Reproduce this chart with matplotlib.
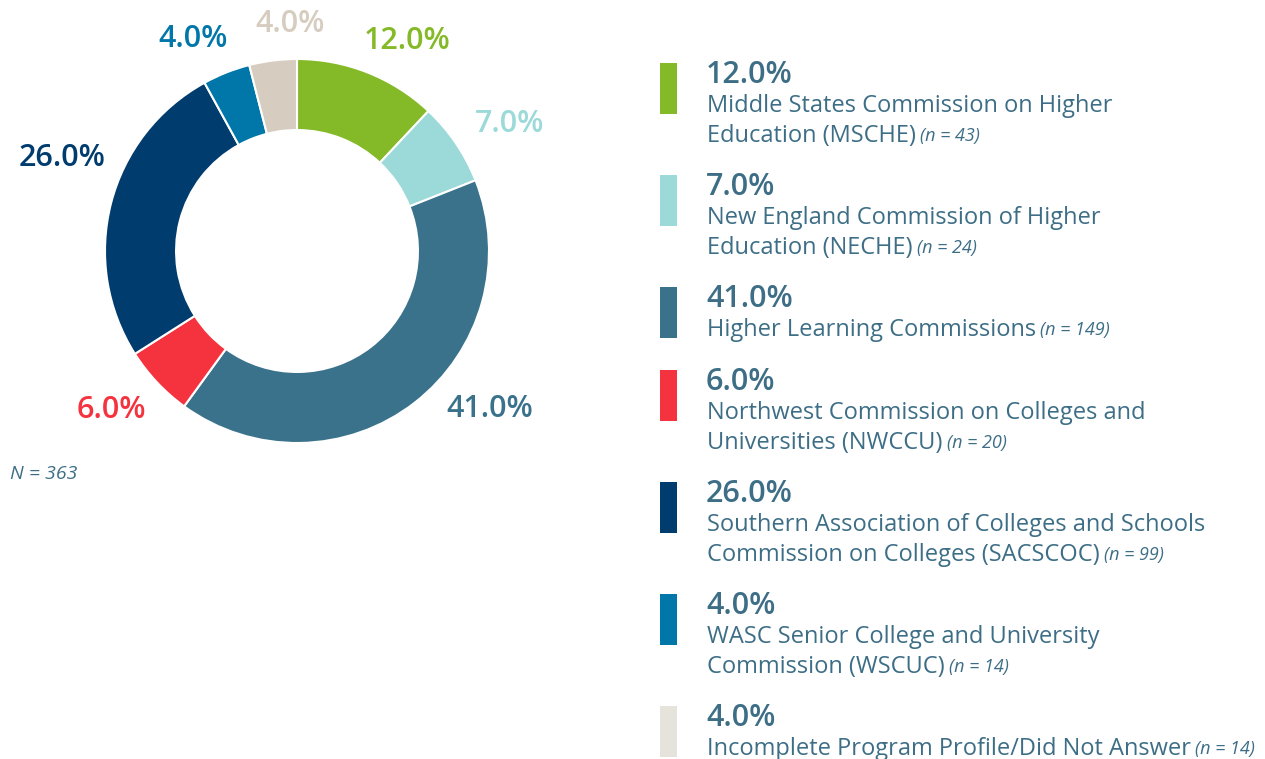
import matplotlib.pyplot as plt

plt.rcParams['font.family'] = ['Open Sans', 'DejaVu Sans']

# data
shares = [12.0, 7.0, 41.0, 6.0, 26.0, 4.0, 4.0]
counts = [43, 24, 149, 20, 99, 14, 14]
names = [
    "Middle States Commission on Higher\nEducation (MSCHE)",
    "New England Commission of Higher\nEducation (NECHE)",
    "Higher Learning Commissions",
    "Northwest Commission on Colleges and\nUniversities (NWCCU)",
    "Southern Association of Colleges and Schools\nCommission on Colleges (SACSCOC)",
    "WASC Senior College and University\nCommission (WSCUC)",
    "Incomplete Program Profile/Did Not Answer",
]
total_n = 363

colors = ['#84BA27', '#9BDAD9', '#3A728C', '#F5333F', '#003C6E', '#0077A8', '#D6CCC0']
swatch_colors = colors[:-1] + ['#E6E2DC']
text_col = '#3D6E86'

W, H = 1265, 759


def py(y):
    # pixel row (from top) -> axis y
    return H - y


fig = plt.figure(figsize=(W / 100, H / 100), dpi=100)
ax = fig.add_axes([0, 0, 1, 1])

cx, cy, R = 297, 251, 192
ax.pie(shares, colors=colors, startangle=90, counterclock=False,
       center=(cx, py(cy)), radius=R, frame=True,
       wedgeprops=dict(width=R * 0.37, edgecolor='white', linewidth=1.5))
ax.set_xlim(0, W)
ax.set_ylim(0, H)
ax.set_aspect('equal')
ax.axis('off')

# outside labels of the donut
label_pos = [(407, 41), (510, 124), (490, 409), (111, 410), (62, 158), (193, 39), (290, 24)]
for v, c, (lx, ly) in zip(shares, colors, label_pos):
    ax.text(lx, py(ly), f"{v:.1f}%", color=c, fontsize=22, fontweight='semibold',
            ha='center', va='center')

ax.text(10, py(474), f"N = {total_n}", color=text_col, fontsize=14, style='italic',
        ha='left', va='center')

# legend
tops = [63, 175, 287, 370, 482, 594, 706]
for v, n, name, c, top in zip(shares, counts, names, swatch_colors, tops):
    ax.add_patch(plt.Rectangle((660, py(top + 51)), 17, 51, color=c, lw=0))
    ax.text(706, py(top + 12), f"{v:.1f}%", color=text_col, fontsize=22,
            fontweight='semibold', ha='left', va='center')
    lines = name.split("\n")
    t = None
    for i, line in enumerate(lines):
        t = ax.text(707, py(top + 43 + 30 * i), line, color=text_col, fontsize=17,
                    ha='left', va='center')
    ax.annotate(f"(n = {n})", xy=(1, 0.5), xycoords=t, xytext=(3, 0),
                textcoords='offset points', color=text_col, fontsize=13,
                style='italic', ha='left', va='center')

fig.savefig('out.png', dpi=100)
